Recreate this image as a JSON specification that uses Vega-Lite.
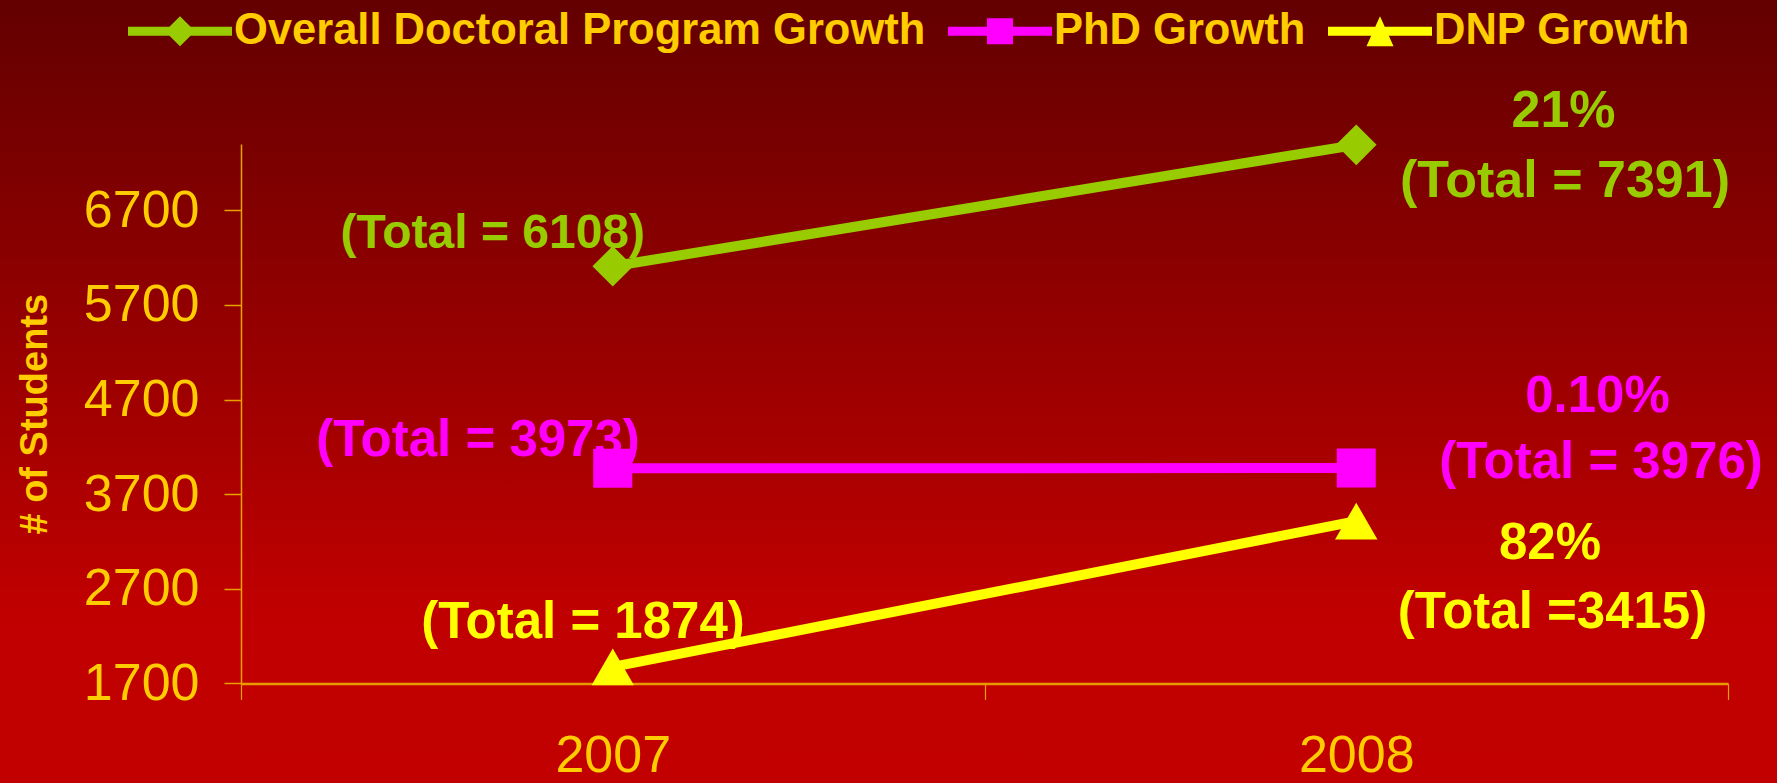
{
  "$schema": "https://vega.github.io/schema/vega-lite/v6.json",
  "width": 1777,
  "height": 783,
  "autosize": "none",
  "padding": 0,
  "background": "#900000",
  "config": {
    "font": "Liberation Sans",
    "view": {
      "stroke": null,
      "fill": {"gradient": "linear", "x1": 0, "y1": 0, "x2": 0, "y2": 1,
        "stops": [{"offset": 0, "color": "#630000"}, {"offset": 0.78, "color": "#C00000"}, {"offset": 1, "color": "#C20000"}]}
    }
  },
  "datasets": {
    "points": [
      {"series": "Overall Doctoral Program Growth", "year": 2007, "students": 6108},
      {"series": "Overall Doctoral Program Growth", "year": 2008, "students": 7391},
      {"series": "PhD Growth", "year": 2007, "students": 3973},
      {"series": "PhD Growth", "year": 2008, "students": 3976},
      {"series": "DNP Growth", "year": 2007, "students": 1874},
      {"series": "DNP Growth", "year": 2008, "students": 3415}
    ],
    "labels": [
      {"id": "a", "year": 2007, "students": 6108, "text": "(Total = 6108)"},
      {"id": "b", "year": 2007, "students": 3973, "text": "(Total = 3973)"},
      {"id": "c", "year": 2007, "students": 1874, "text": "(Total = 1874)"},
      {"id": "d", "year": 2008, "students": 7391, "text": "21%"},
      {"id": "e", "year": 2008, "students": 7391, "text": "(Total = 7391)"},
      {"id": "f", "year": 2008, "students": 3976, "text": "0.10%"},
      {"id": "g", "year": 2008, "students": 3976, "text": "(Total = 3976)"},
      {"id": "h", "year": 2008, "students": 3415, "text": "82%"},
      {"id": "i", "year": 2008, "students": 3415, "text": "(Total =3415)"}
    ]
  },
  "encoding": {
    "x": {
      "field": "year", "type": "quantitative",
      "scale": {"domain": [2006.5, 2008.5], "range": [241, 1728], "nice": false, "zero": false},
      "axis": {
        "values": [2006.5, 2007, 2007.5, 2008, 2008.5],
        "offset": -99.6,
        "title": null,
        "grid": false,
        "domainColor": "#E89A00", "domainWidth": 2.5,
        "tickColor": "#E8A200", "tickWidth": 1.2, "tickSize": 16,
        "tickOpacity": {"condition": {"test": "datum.value === 2007 || datum.value === 2008", "value": 0}, "value": 1},
        "labelExpr": "datum.value === 2007 || datum.value === 2008 ? '' + datum.value : ''",
        "labelFont": "Liberation Sans", "labelFontSize": 52, "labelColor": "#FFCC00",
        "labelPadding": 31, "labelOverlap": false, "labelFlush": false
      }
    },
    "y": {
      "field": "students", "type": "quantitative",
      "scale": {"domain": [1700, 7400], "range": [683.4, 144], "nice": false, "zero": false},
      "axis": {
        "values": [1700, 2700, 3700, 4700, 5700, 6700],
        "format": "d",
        "offset": -241,
        "grid": false,
        "domainColor": "#E8A200", "domainWidth": 1.5,
        "tickColor": "#E8A200", "tickWidth": 1.5, "tickSize": 17,
        "labelFont": "Liberation Sans", "labelFontSize": 52, "labelColor": "#FFCC00",
        "labelPadding": 25, "labelOverlap": false, "labelFlush": false,
        "title": "# of Students",
        "titleFont": "Liberation Sans", "titleFontSize": 38, "titleFontWeight": "bold",
        "titleColor": "#FFCC00", "titlePadding": 29
      }
    }
  },
  "layer": [
    {
      "data": {"name": "points"}, "transform": [{"filter": "datum.series === 'Overall Doctoral Program Growth'"}],
      "mark": {"type": "line", "strokeWidth": 10, "color": "#99CC00"}
    },
    {
      "data": {"name": "points"}, "transform": [{"filter": "datum.series === 'PhD Growth'"}],
      "mark": {"type": "line", "strokeWidth": 10, "color": "#FF00FF"}
    },
    {
      "data": {"name": "points"}, "transform": [{"filter": "datum.series === 'DNP Growth'"}],
      "mark": {"type": "line", "strokeWidth": 10, "color": "#FFFF00"}
    },
    {
      "data": {"name": "points"}, "transform": [{"filter": "datum.series === 'Overall Doctoral Program Growth'"}],
      "mark": {"type": "point", "filled": true, "opacity": 1, "size": 1650, "strokeWidth": 0, "shape": "diamond", "color": "#99CC00"}
    },
    {
      "data": {"name": "points"}, "transform": [{"filter": "datum.series === 'PhD Growth'"}],
      "mark": {"type": "point", "filled": true, "opacity": 1, "size": 1521, "strokeWidth": 0, "shape": "square", "color": "#FF00FF"}
    },
    {
      "data": {"name": "points"}, "transform": [{"filter": "datum.series === 'DNP Growth'"}],
      "mark": {"type": "point", "filled": true, "opacity": 1, "size": 1800, "strokeWidth": 0, "shape": "triangle-up", "color": "#FFFF00"}
    },
    {
      "data": {"name": "points"},
      "mark": {"type": "point", "filled": true, "opacity": 0, "size": 10816, "strokeWidth": 0},
      "encoding": {
        "color": {
          "field": "series", "type": "nominal",
          "scale": {"domain": ["Overall Doctoral Program Growth", "PhD Growth", "DNP Growth"], "range": ["#99CC00", "#FF00FF", "#FFFF00"]},
          "legend": {
            "title": null, "orient": "none", "legendX": 128, "legendY": -21,
            "direction": "horizontal", "symbolSize": 10816, "symbolStrokeWidth": 0, "symbolOpacity": 1,
            "labelFont": "Liberation Sans", "labelFontSize": 43.5, "labelFontWeight": "bold",
            "labelColor": "#FFCC00", "labelLimit": 1000, "labelOffset": 2, "columnPadding": 22, "padding": 0
          }
        },
        "shape": {
          "field": "series", "type": "nominal",
          "scale": {
            "domain": ["Overall Doctoral Program Growth", "PhD Growth", "DNP Growth"],
            "range": [
              "M-1,-0.087H1V0.087H-1Z M0,-0.29L0.29,0L0,0.29L-0.29,0Z",
              "M-1,-0.087H1V0.087H-1Z M-0.25,-0.25H0.25V0.25H-0.25Z",
              "M-1,-0.087H1V0.087H-1Z M0,-0.29L0.26,0.29H-0.26Z"
            ]
          },
          "legend": {
            "title": null, "orient": "none", "legendX": 128, "legendY": -21,
            "direction": "horizontal", "symbolSize": 10816, "symbolStrokeWidth": 0, "symbolOpacity": 1,
            "labelFont": "Liberation Sans", "labelFontSize": 43.5, "labelFontWeight": "bold",
            "labelColor": "#FFCC00", "labelLimit": 1000, "labelOffset": 2, "columnPadding": 22, "padding": 0
          }
        }
      }
    },
    {
      "data": {"name": "labels"}, "transform": [{"filter": "datum.id === 'a'"}],
      "mark": {"type": "text", "font": "Liberation Sans", "fontWeight": "bold", "fontSize": 48, "color": "#99CC00", "align": "center", "baseline": "middle", "dx": -120, "dy": -32.5},
      "encoding": {"text": {"field": "text"}}
    },
    {
      "data": {"name": "labels"}, "transform": [{"filter": "datum.id === 'b'"}],
      "mark": {"type": "text", "font": "Liberation Sans", "fontWeight": "bold", "fontSize": 51, "color": "#FF00FF", "align": "center", "baseline": "middle", "dx": -134.7, "dy": -27.8},
      "encoding": {"text": {"field": "text"}}
    },
    {
      "data": {"name": "labels"}, "transform": [{"filter": "datum.id === 'c'"}],
      "mark": {"type": "text", "font": "Liberation Sans", "fontWeight": "bold", "fontSize": 51, "color": "#FFFF00", "align": "center", "baseline": "middle", "dx": -29.75, "dy": -44.4},
      "encoding": {"text": {"field": "text"}}
    },
    {
      "data": {"name": "labels"}, "transform": [{"filter": "datum.id === 'd'"}],
      "mark": {"type": "text", "font": "Liberation Sans", "fontWeight": "bold", "fontSize": 52, "color": "#99CC00", "align": "center", "baseline": "middle", "dx": 207.25, "dy": -33.85},
      "encoding": {"text": {"field": "text"}}
    },
    {
      "data": {"name": "labels"}, "transform": [{"filter": "datum.id === 'e'"}],
      "mark": {"type": "text", "font": "Liberation Sans", "fontWeight": "bold", "fontSize": 52, "color": "#99CC00", "align": "center", "baseline": "middle", "dx": 208.75, "dy": 35.65},
      "encoding": {"text": {"field": "text"}}
    },
    {
      "data": {"name": "labels"}, "transform": [{"filter": "datum.id === 'f'"}],
      "mark": {"type": "text", "font": "Liberation Sans", "fontWeight": "bold", "fontSize": 51, "color": "#FF00FF", "align": "center", "baseline": "middle", "dx": 241.25, "dy": -71},
      "encoding": {"text": {"field": "text"}}
    },
    {
      "data": {"name": "labels"}, "transform": [{"filter": "datum.id === 'g'"}],
      "mark": {"type": "text", "font": "Liberation Sans", "fontWeight": "bold", "fontSize": 51, "color": "#FF00FF", "align": "center", "baseline": "middle", "dx": 244.75, "dy": -5},
      "encoding": {"text": {"field": "text"}}
    },
    {
      "data": {"name": "labels"}, "transform": [{"filter": "datum.id === 'h'"}],
      "mark": {"type": "text", "font": "Liberation Sans", "fontWeight": "bold", "fontSize": 51, "color": "#FFFF00", "align": "center", "baseline": "middle", "dx": 193.75, "dy": 22.9},
      "encoding": {"text": {"field": "text"}}
    },
    {
      "data": {"name": "labels"}, "transform": [{"filter": "datum.id === 'i'"}],
      "mark": {"type": "text", "font": "Liberation Sans", "fontWeight": "bold", "fontSize": 51, "color": "#FFFF00", "align": "center", "baseline": "middle", "dx": 196.25, "dy": 91.9},
      "encoding": {"text": {"field": "text"}}
    }
  ]
}
